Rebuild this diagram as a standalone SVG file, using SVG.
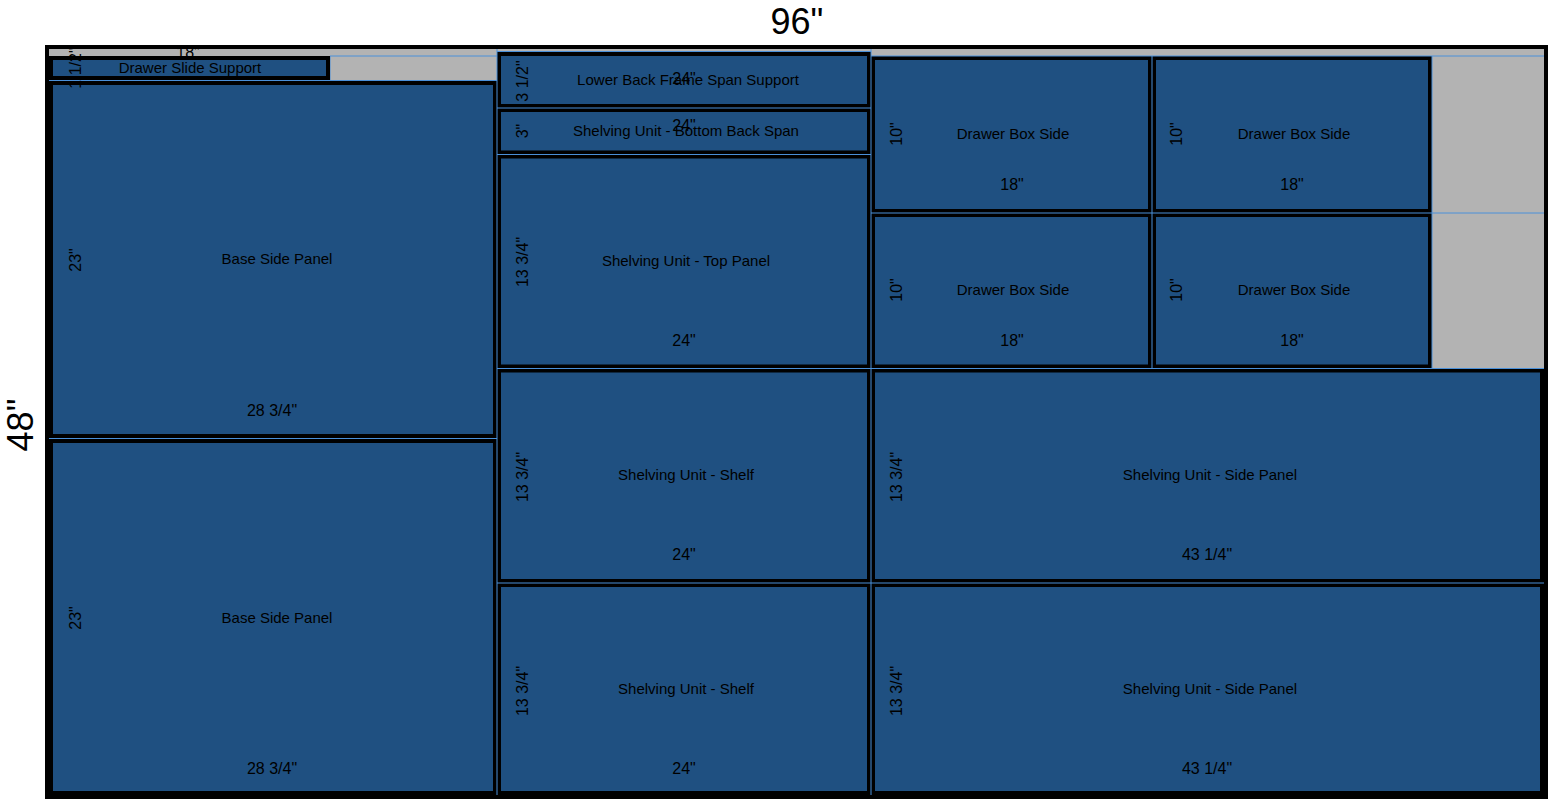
<svg xmlns="http://www.w3.org/2000/svg" width="1548" height="800" viewBox="0 0 1548 800">
<style>
.part rect{fill:#1f5081;stroke:#000;stroke-width:4}
.name{font-family:"Liberation Sans",Arial,sans-serif;font-size:15px;fill:#000;text-anchor:middle;dominant-baseline:central}
.dim{font-family:"Liberation Sans",Arial,sans-serif;font-size:16px;fill:#000;text-anchor:middle;dominant-baseline:central}
.cut{stroke:#4a90d9;stroke-width:1;fill:none}
.title{font-family:"Liberation Sans",Arial,sans-serif;font-size:36px;fill:#000;text-anchor:middle;dominant-baseline:central}
</style>
<rect width="1548" height="800" fill="#fff"/>
<text class="title" x="797" y="21">96"</text>
<text class="title" transform="translate(20,425) rotate(-90)">48"</text>
<rect id="sheet" x="47" y="47" width="1499" height="750" fill="#b3b3b3" stroke="#000" stroke-width="4"/>
<g id="base-side-panel-1" class="part"><rect x="51" y="83" width="444" height="353"/>
<text class="name" x="277" y="258">Base Side Panel</text><text class="dim" x="272" y="410">28 3/4"</text><text class="dim" transform="translate(75,260) rotate(-90)">23"</text></g>
<g id="base-side-panel-2" class="part"><rect x="51" y="441" width="444" height="352"/>
<text class="name" x="277" y="617">Base Side Panel</text><text class="dim" x="272" y="768">28 3/4"</text><text class="dim" transform="translate(75,618) rotate(-90)">23"</text></g>
<g id="lower-back-frame-span-support" class="part"><rect x="499" y="54" width="370" height="52"/>
<text class="name" x="688" y="79">Lower Back Frame Span Support</text><text class="dim" x="684" y="78">24"</text><text class="dim" transform="translate(522,81) rotate(-90)">3 1/2"</text></g>
<g id="bottom-back-span" class="part"><rect x="499" y="110" width="370" height="42.5"/>
<text class="name" x="686" y="130">Shelving Unit - Bottom Back Span</text><text class="dim" x="684" y="125">24"</text><text class="dim" transform="translate(522,131) rotate(-90)">3"</text></g>
<g id="top-panel" class="part"><rect x="499" y="156.5" width="370" height="210"/>
<text class="name" x="686" y="260">Shelving Unit - Top Panel</text><text class="dim" x="684" y="340">24"</text><text class="dim" transform="translate(522,262) rotate(-90)">13 3/4"</text></g>
<g id="shelf-1" class="part"><rect x="499" y="370.5" width="370" height="210.5"/>
<text class="name" x="686" y="474">Shelving Unit - Shelf</text><text class="dim" x="684" y="554">24"</text><text class="dim" transform="translate(522,477) rotate(-90)">13 3/4"</text></g>
<g id="shelf-2" class="part"><rect x="499" y="585" width="370" height="208"/>
<text class="name" x="686" y="688">Shelving Unit - Shelf</text><text class="dim" x="684" y="768">24"</text><text class="dim" transform="translate(522,691) rotate(-90)">13 3/4"</text></g>
<g id="drawer-box-side-1" class="part"><rect x="873" y="58" width="277" height="153"/>
<text class="name" x="1013" y="133">Drawer Box Side</text><text class="dim" x="1012" y="184">18"</text><text class="dim" transform="translate(896,134) rotate(-90)">10"</text></g>
<g id="drawer-box-side-2" class="part"><rect x="1154" y="58" width="276" height="153"/>
<text class="name" x="1294" y="133">Drawer Box Side</text><text class="dim" x="1292" y="184">18"</text><text class="dim" transform="translate(1176,134) rotate(-90)">10"</text></g>
<g id="drawer-box-side-3" class="part"><rect x="873" y="215" width="277" height="151.5"/>
<text class="name" x="1013" y="289">Drawer Box Side</text><text class="dim" x="1012" y="340">18"</text><text class="dim" transform="translate(896,290) rotate(-90)">10"</text></g>
<g id="drawer-box-side-4" class="part"><rect x="1154" y="215" width="276" height="151.5"/>
<text class="name" x="1294" y="289">Drawer Box Side</text><text class="dim" x="1292" y="340">18"</text><text class="dim" transform="translate(1176,290) rotate(-90)">10"</text></g>
<g id="side-panel-1" class="part"><rect x="873" y="370.5" width="669" height="210.5"/>
<text class="name" x="1210" y="474">Shelving Unit - Side Panel</text><text class="dim" x="1207" y="554">43 1/4"</text><text class="dim" transform="translate(896,477) rotate(-90)">13 3/4"</text></g>
<g id="side-panel-2" class="part"><rect x="873" y="585" width="669" height="208"/>
<text class="name" x="1210" y="688">Shelving Unit - Side Panel</text><text class="dim" x="1207" y="768">43 1/4"</text><text class="dim" transform="translate(896,691) rotate(-90)">13 3/4"</text></g>
<g id="cuts">
<line class="cut" x1="497" y1="49" x2="497" y2="795"/>
<line class="cut" x1="871" y1="49" x2="871" y2="795"/>
<line class="cut" x1="49" y1="80.5" x2="497" y2="80.5"/>
<line class="cut" x1="330" y1="56" x2="497" y2="56"/>
<line class="cut" x1="330" y1="56" x2="330" y2="80"/>
<line class="cut" x1="497" y1="51.5" x2="871" y2="51.5"/>
<line class="cut" x1="871" y1="56" x2="1544" y2="56"/>
<line class="cut" x1="497" y1="108" x2="871" y2="108"/>
<line class="cut" x1="497" y1="154.5" x2="871" y2="154.5"/>
<line class="cut" x1="497" y1="368.5" x2="1544" y2="368.5"/>
<line class="cut" x1="497" y1="583" x2="1544" y2="583"/>
<line class="cut" x1="871" y1="213" x2="1544" y2="213"/>
<line class="cut" x1="1152" y1="56" x2="1152" y2="368"/>
<line class="cut" x1="1432" y1="56" x2="1432" y2="368"/>
<line class="cut" x1="49" y1="438.5" x2="497" y2="438.5"/>
</g>
<g id="drawer-slide-support" class="part"><rect x="51" y="58" width="277" height="20"/>
<text class="name" x="190" y="67">Drawer Slide Support</text><text class="dim" x="188" y="52">18"</text><text class="dim" transform="translate(75,68) rotate(-90)">1 1/2"</text></g>
</svg>
